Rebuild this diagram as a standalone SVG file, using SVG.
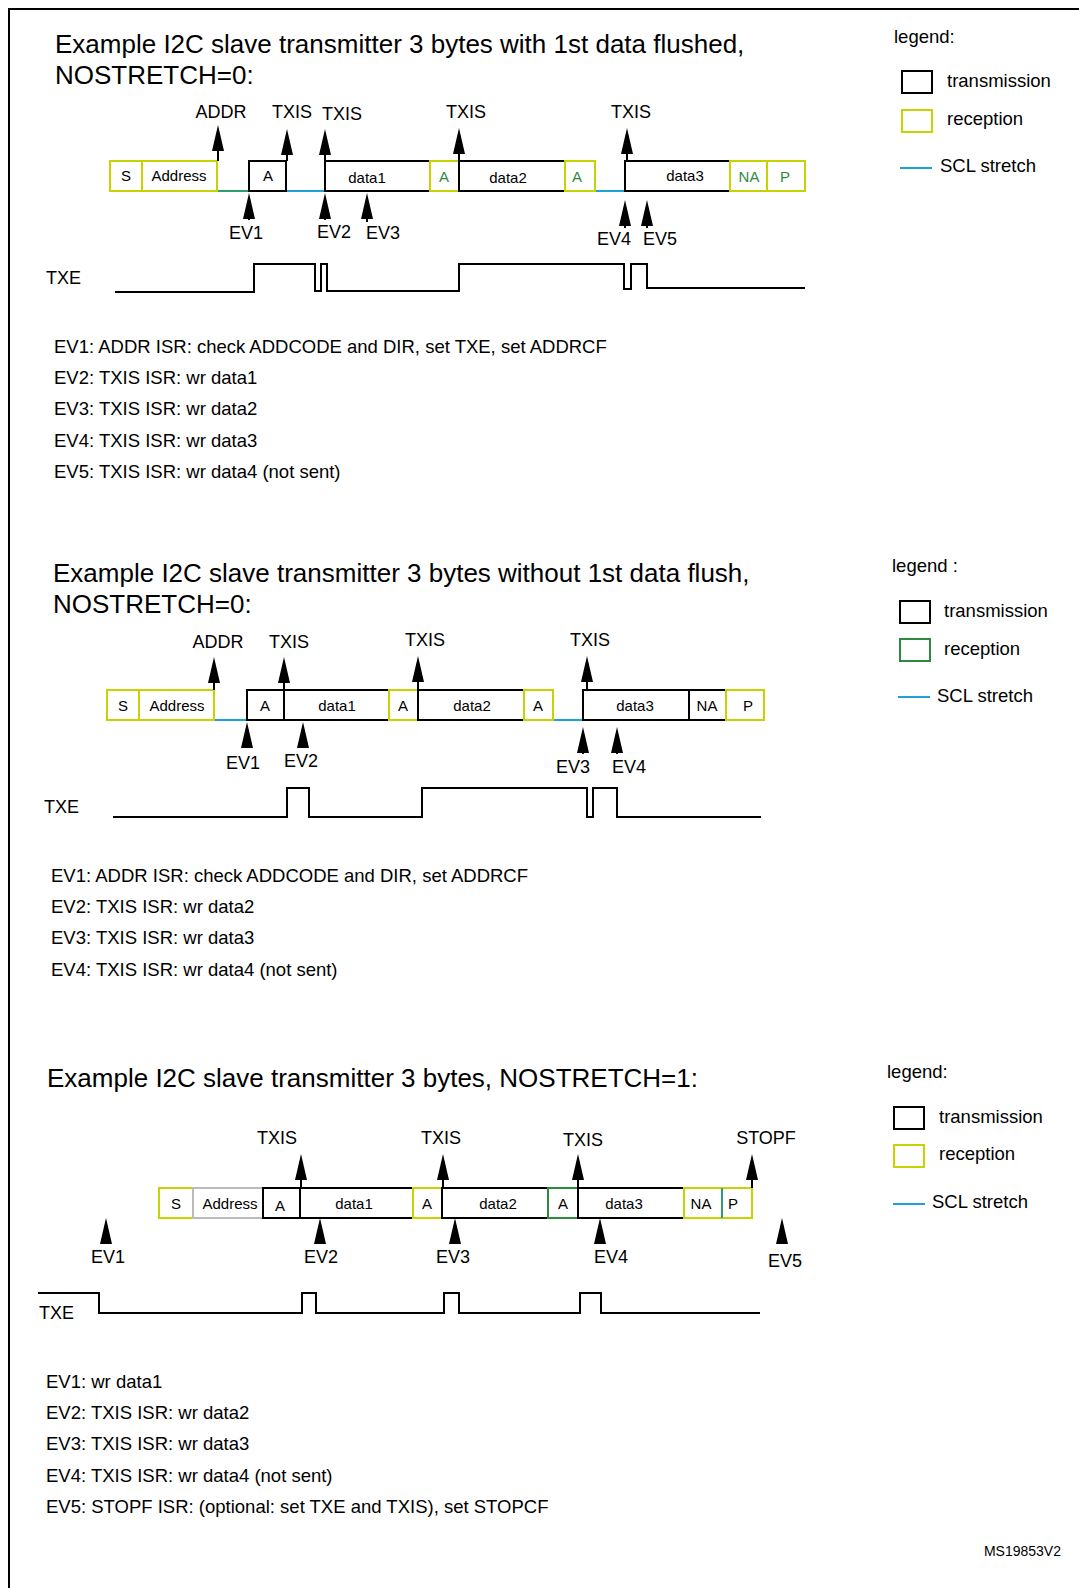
<svg xmlns="http://www.w3.org/2000/svg" xmlns:xlink="http://www.w3.org/1999/xlink" width="1079" height="1588" viewBox="0 0 1079 1588">
<style>
text{font-family:"Liberation Sans",Arial,sans-serif;fill:#000}
.t{font-size:26px}.l{font-size:18px}.s{font-size:15px}.e{font-size:18.5px}.g{fill:#2e8b3e}
.bk{fill:#fff;stroke:#000;stroke-width:2}.yw{fill:#fff;stroke:#c5d400;stroke-width:2}.gr{fill:#fff;stroke:#2e8b3e;stroke-width:2}.gy{fill:#fff;stroke:#bbb;stroke-width:2}
.st{stroke:#000;stroke-width:2;fill:none}.bl{stroke:#1ea0d8;stroke-width:2}.gl{stroke:#2e9e6e;stroke-width:2}
.w{fill:none;stroke:#000;stroke-width:2}
</style>
<defs>
<polygon id="ah" points="0,0 -6,26 6,26" fill="#000"/>
</defs>
<rect x="9" y="9" width="1080" height="1590" fill="#fff" stroke="#000" stroke-width="2"/>

<!-- Section 1 -->
<g id="s1">
<text class="t" x="55" y="53">Example I2C slave transmitter 3 bytes with 1st data flushed,</text>
<text class="t" x="55" y="84">NOSTRETCH=0:</text>
<g id="s1-row">
<line class="gl" x1="217" y1="191" x2="249" y2="191"/>
<line class="bl" x1="286" y1="191" x2="325" y2="191"/>
<line class="bl" x1="595" y1="191" x2="625" y2="191"/>
<rect class="yw" x="110" y="161" width="32" height="30"/><text class="s" x="126" y="181" text-anchor="middle">S</text>
<rect class="yw" x="142" y="161" width="75" height="30"/><text class="s" x="179" y="181" text-anchor="middle">Address</text>
<rect class="bk" x="249" y="161" width="37" height="30"/><text class="s" x="268" y="181" text-anchor="middle">A</text>
<rect class="bk" x="325" y="161" width="105" height="30"/><text class="s" x="367" y="183" text-anchor="middle">data1</text>
<rect class="yw" x="430" y="161" width="29" height="30"/><text class="s g" x="444" y="182" text-anchor="middle">A</text>
<rect class="bk" x="459" y="161" width="106" height="30"/><text class="s" x="508" y="183" text-anchor="middle">data2</text>
<rect class="yw" x="565" y="161" width="30" height="30"/><text class="s g" x="577" y="182" text-anchor="middle">A</text>
<rect class="bk" x="625" y="161" width="105" height="30"/><text class="s" x="685" y="181" text-anchor="middle">data3</text>
<rect class="yw" x="730" y="161" width="37" height="30"/><text class="s g" x="749" y="182" text-anchor="middle">NA</text>
<rect class="yw" x="767" y="161" width="38" height="30"/><text class="s g" x="785" y="182" text-anchor="middle">P</text>
</g>
<g id="s1-arrows">
<line class="st" x1="218" y1="161" x2="218" y2="140"/><use href="#ah" x="218" y="125"/><text class="l" x="221" y="118" text-anchor="middle">ADDR</text>
<line class="st" x1="287" y1="161" x2="287" y2="140"/><use href="#ah" x="287" y="129"/><text class="l" x="292" y="118" text-anchor="middle">TXIS</text>
<line class="st" x1="325" y1="161" x2="325" y2="140"/><use href="#ah" x="325" y="129"/><text class="l" x="342" y="120" text-anchor="middle">TXIS</text>
<line class="st" x1="459" y1="161" x2="459" y2="140"/><use href="#ah" x="459" y="128"/><text class="l" x="466" y="118" text-anchor="middle">TXIS</text>
<line class="st" x1="627" y1="161" x2="627" y2="140"/><use href="#ah" x="627" y="128"/><text class="l" x="631" y="118" text-anchor="middle">TXIS</text>
<line class="st" x1="249" y1="220" x2="249" y2="205"/><use href="#ah" x="249" y="193"/><text class="l" x="246" y="239" text-anchor="middle">EV1</text>
<line class="st" x1="325" y1="220" x2="325" y2="205"/><use href="#ah" x="325" y="193"/><text class="l" x="334" y="238" text-anchor="middle">EV2</text>
<line class="st" x1="367" y1="222" x2="367" y2="205"/><use href="#ah" x="367" y="193"/><text class="l" x="383" y="239" text-anchor="middle">EV3</text>
<line class="st" x1="625" y1="228" x2="625" y2="212"/><use href="#ah" x="625" y="200"/><text class="l" x="614" y="245" text-anchor="middle">EV4</text>
<line class="st" x1="647" y1="228" x2="647" y2="212"/><use href="#ah" x="647" y="200"/><text class="l" x="660" y="245" text-anchor="middle">EV5</text>
</g>
<g id="s1-txe">
<text class="l" x="46" y="284">TXE</text>
<polyline class="w" points="115,292 254,292 254,264 315,264 315,291 321,291 321,264 327,264 327,291 342,291 342,291 459,291 459,264 624,264 624,289 631,289 631,264 647,264 647,288 805,288"/>
</g>
<g id="s1-ev">
<text class="e" x="54" y="353">EV1: ADDR ISR: check ADDCODE and DIR, set TXE, set ADDRCF</text>
<text class="e" x="54" y="384">EV2: TXIS ISR: wr data1</text>
<text class="e" x="54" y="415">EV3: TXIS ISR: wr data2</text>
<text class="e" x="54" y="447">EV4: TXIS ISR: wr data3</text>
<text class="e" x="54" y="478">EV5: TXIS ISR: wr data4 (not sent)</text>
</g>
<g id="s1-legend">
<text class="e" x="894" y="43">legend:</text>
<rect class="bk" x="902" y="71" width="30" height="22"/><text class="e" x="947" y="87">transmission</text>
<rect class="yw" x="902" y="110" width="30" height="22"/><text class="e" x="947" y="125">reception</text>
<line class="bl" x1="900" y1="168" x2="932" y2="168"/><text class="e" x="940" y="172">SCL stretch</text>
</g>
</g>

<!-- Section 2 -->
<g id="s2">
<text class="t" x="53" y="582">Example I2C slave transmitter 3 bytes without 1st data flush,</text>
<text class="t" x="53" y="613">NOSTRETCH=0:</text>
<g id="s2-row">
<line class="bl" x1="214" y1="720" x2="247" y2="720"/>
<line class="bl" x1="553" y1="720" x2="583" y2="720"/>
<rect class="yw" x="107" y="690" width="32" height="30"/><text class="s" x="123" y="711" text-anchor="middle">S</text>
<rect class="yw" x="139" y="690" width="75" height="30"/><text class="s" x="177" y="711" text-anchor="middle">Address</text>
<rect class="bk" x="247" y="690" width="37" height="30"/><text class="s" x="265" y="711" text-anchor="middle">A</text>
<rect class="bk" x="284" y="690" width="105" height="30"/><text class="s" x="337" y="711" text-anchor="middle">data1</text>
<rect class="yw" x="389" y="690" width="29" height="30"/><text class="s" x="403" y="711" text-anchor="middle">A</text>
<rect class="bk" x="418" y="690" width="106" height="30"/><text class="s" x="472" y="711" text-anchor="middle">data2</text>
<rect class="yw" x="524" y="690" width="29" height="30"/><text class="s" x="538" y="711" text-anchor="middle">A</text>
<rect class="bk" x="583" y="690" width="106" height="30"/><text class="s" x="635" y="711" text-anchor="middle">data3</text>
<rect class="bk" x="689" y="690" width="37" height="30"/><text class="s" x="707" y="711" text-anchor="middle">NA</text>
<rect class="yw" x="726" y="690" width="38" height="30"/><text class="s" x="748" y="711" text-anchor="middle">P</text>
</g>
<g id="s2-arrows">
<line class="st" x1="214" y1="690" x2="214" y2="668"/><use href="#ah" x="214" y="657"/><text class="l" x="218" y="648" text-anchor="middle">ADDR</text>
<line class="st" x1="284" y1="690" x2="284" y2="668"/><use href="#ah" x="284" y="657"/><text class="l" x="289" y="648" text-anchor="middle">TXIS</text>
<line class="st" x1="418" y1="690" x2="418" y2="668"/><use href="#ah" x="418" y="656"/><text class="l" x="425" y="646" text-anchor="middle">TXIS</text>
<line class="st" x1="587" y1="690" x2="587" y2="668"/><use href="#ah" x="587" y="656"/><text class="l" x="590" y="646" text-anchor="middle">TXIS</text>
<line class="st" x1="247" y1="748" x2="247" y2="732"/><use href="#ah" x="247" y="722"/><text class="l" x="243" y="769" text-anchor="middle">EV1</text>
<line class="st" x1="303" y1="748" x2="303" y2="732"/><use href="#ah" x="303" y="722"/><text class="l" x="301" y="767" text-anchor="middle">EV2</text>
<line class="st" x1="583" y1="754" x2="583" y2="738"/><use href="#ah" x="583" y="727"/><text class="l" x="573" y="773" text-anchor="middle">EV3</text>
<line class="st" x1="617" y1="754" x2="617" y2="738"/><use href="#ah" x="617" y="727"/><text class="l" x="629" y="773" text-anchor="middle">EV4</text>
</g>
<g id="s2-txe">
<text class="l" x="44" y="813">TXE</text>
<polyline class="w" points="113,817 287,817 287,788 309,788 309,817 422,817 422,788 587,788 587,817 593,817 593,788 617,788 617,817 761,817"/>
</g>
<g id="s2-ev">
<text class="e" x="51" y="882">EV1: ADDR ISR: check ADDCODE and DIR, set ADDRCF</text>
<text class="e" x="51" y="913">EV2: TXIS ISR: wr data2</text>
<text class="e" x="51" y="944">EV3: TXIS ISR: wr data3</text>
<text class="e" x="51" y="976">EV4: TXIS ISR: wr data4 (not sent)</text>
</g>
<g id="s2-legend">
<text class="e" x="892" y="572">legend :</text>
<rect class="bk" x="900" y="601" width="30" height="22"/><text class="e" x="944" y="617">transmission</text>
<rect class="gr" x="900" y="639" width="30" height="22"/><text class="e" x="944" y="655">reception</text>
<line class="bl" x1="898" y1="697" x2="930" y2="697"/><text class="e" x="937" y="702">SCL stretch</text>
</g>
</g>

<!-- Section 3 -->
<g id="s3">
<text class="t" x="47" y="1087">Example I2C slave transmitter 3 bytes, NOSTRETCH=1:</text>
<g id="s3-row">
<rect class="yw" x="159" y="1188" width="34" height="30"/><text class="s" x="176" y="1209" text-anchor="middle">S</text>
<rect class="gy" x="193" y="1188" width="70" height="30"/><text class="s" x="230" y="1209" text-anchor="middle">Address</text>
<rect class="bk" x="263" y="1188" width="37" height="30"/><text class="s" x="280" y="1211" text-anchor="middle">A</text>
<rect class="bk" x="300" y="1188" width="113" height="30"/><text class="s" x="354" y="1209" text-anchor="middle">data1</text>
<rect class="yw" x="413" y="1188" width="29" height="30"/><text class="s" x="427" y="1209" text-anchor="middle">A</text>
<rect class="bk" x="442" y="1188" width="106" height="30"/><text class="s" x="498" y="1209" text-anchor="middle">data2</text>
<rect class="gr" x="548" y="1188" width="30" height="30"/><text class="s" x="563" y="1209" text-anchor="middle">A</text>
<rect class="bk" x="578" y="1188" width="106" height="30"/><text class="s" x="624" y="1209" text-anchor="middle">data3</text>
<rect class="yw" x="684" y="1188" width="38" height="30"/><text class="s" x="701" y="1209" text-anchor="middle">NA</text>
<rect class="yw" x="722" y="1188" width="30" height="30"/><line class="gl" x1="722" y1="1188" x2="722" y2="1218"/><text class="s" x="733" y="1209" text-anchor="middle">P</text>
</g>
<g id="s3-arrows">
<line class="st" x1="301" y1="1188" x2="301" y2="1165"/><use href="#ah" x="301" y="1154"/><text class="l" x="277" y="1144" text-anchor="middle">TXIS</text>
<line class="st" x1="443" y1="1188" x2="443" y2="1165"/><use href="#ah" x="443" y="1154"/><text class="l" x="441" y="1144" text-anchor="middle">TXIS</text>
<line class="st" x1="578" y1="1188" x2="578" y2="1165"/><use href="#ah" x="578" y="1154"/><text class="l" x="583" y="1146" text-anchor="middle">TXIS</text>
<line class="st" x1="752" y1="1188" x2="752" y2="1165"/><use href="#ah" x="752" y="1154"/><text class="l" x="766" y="1144" text-anchor="middle">STOPF</text>
<line class="st" x1="106" y1="1243" x2="106" y2="1232"/><use href="#ah" x="106" y="1218"/><text class="l" x="108" y="1263" text-anchor="middle">EV1</text>
<line class="st" x1="320" y1="1243" x2="320" y2="1232"/><use href="#ah" x="320" y="1218"/><text class="l" x="321" y="1263" text-anchor="middle">EV2</text>
<line class="st" x1="455" y1="1243" x2="455" y2="1232"/><use href="#ah" x="455" y="1218"/><text class="l" x="453" y="1263" text-anchor="middle">EV3</text>
<line class="st" x1="600" y1="1243" x2="600" y2="1232"/><use href="#ah" x="600" y="1218"/><text class="l" x="611" y="1263" text-anchor="middle">EV4</text>
<line class="st" x1="782" y1="1243" x2="782" y2="1232"/><use href="#ah" x="782" y="1218"/><text class="l" x="785" y="1267" text-anchor="middle">EV5</text>
</g>
<g id="s3-txe">
<text class="l" x="39" y="1319">TXE</text>
<polyline class="w" points="38,1293 99,1293 99,1313 302,1313 302,1293 316,1293 316,1313 444,1313 444,1293 459,1293 459,1313 580,1313 580,1293 601,1293 601,1313 760,1313"/>
</g>
<g id="s3-ev">
<text class="e" x="46" y="1388">EV1: wr data1</text>
<text class="e" x="46" y="1419">EV2: TXIS ISR: wr data2</text>
<text class="e" x="46" y="1450">EV3: TXIS ISR: wr data3</text>
<text class="e" x="46" y="1482">EV4: TXIS ISR: wr data4 (not sent)</text>
<text class="e" x="46" y="1513">EV5: STOPF ISR: (optional: set TXE and TXIS), set STOPCF</text>
</g>
<g id="s3-legend">
<text class="e" x="887" y="1078">legend:</text>
<rect class="bk" x="894" y="1107" width="30" height="22"/><text class="e" x="939" y="1123">transmission</text>
<rect class="yw" x="894" y="1145" width="30" height="22"/><text class="e" x="939" y="1160">reception</text>
<line class="bl" x1="893" y1="1204" x2="925" y2="1204"/><text class="e" x="932" y="1208">SCL stretch</text>
</g>
</g>
<text x="1061" y="1556" font-size="14" text-anchor="end">MS19853V2</text>
</svg>
